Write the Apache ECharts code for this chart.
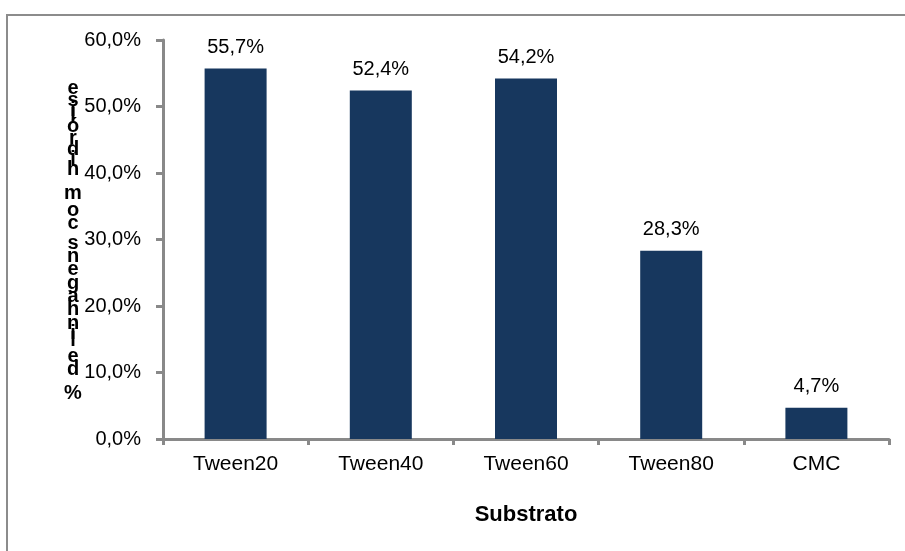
<!DOCTYPE html>
<html>
<head>
<meta charset="utf-8">
<script src="https://cdn.jsdelivr.net/npm/echarts@6/dist/echarts.min.js"></script>
<style>
  html, body { margin: 0; padding: 0; background: #fff; }
  #chart { width: 905px; height: 551px; }
</style>
</head>
<body>
<div id="chart"></div>
<script>
// Share of strains showing hydrolysis per substrate (%)
const categories = ['Tween20', 'Tween40', 'Tween60', 'Tween80', 'CMC'];
const hydrolysis = [55.7, 52.4, 54.2, 28.3, 4.7];
const yTicks = [0, 10, 20, 30, 40, 50, 60];
const yTitle = '% de linhagens com hidrólise';
const xTitle = 'Substrato';

const FONT = "'Liberation Sans', Arial, sans-serif";
const AXIS_GRAY = '#898989';
const BAR_BLUE = '#17375E';
const pct = v => Number(v).toFixed(1).replace('.', ',') + '%';

// Vertical title drawn as upright glyphs stacked bottom-to-top,
// each one advanced by its own horizontal width.
function stackedTitle(text, cx, yTop, yBottom, fontPx) {
  const ctx = document.createElement('canvas').getContext('2d');
  ctx.font = 'bold 100px ' + FONT;
  const chars = Array.from(text);
  const adv = chars.map(c => ctx.measureText(c).width);
  let acc = 0;
  const centers = adv.map(w => { const c = acc + w / 2; acc += w; return c; });
  const first = centers[0], last = centers[centers.length - 1];
  const k = (yBottom - yTop) / (last - first);
  const out = [];
  chars.forEach((c, i) => {
    if (c === ' ') return;
    out.push({
      type: 'text',
      x: cx,
      y: yBottom - (centers[i] - first) * k,
      z: 10,
      style: {
        text: c,
        font: 'bold ' + fontPx + 'px ' + FONT,
        fill: '#000',
        align: 'center', textAlign: 'center',
        verticalAlign: 'middle', textVerticalAlign: 'middle'
      }
    });
  });
  return out;
}

const chart = echarts.init(document.getElementById('chart'), null, { renderer: 'canvas' });

chart.setOption({
  animation: false,
  backgroundColor: '#fff',
  textStyle: { fontFamily: FONT },
  grid: { left: 163, right: 16, top: 40, bottom: 112, containLabel: false, outerBoundsMode: 'none' },
  xAxis: {
    type: 'category',
    data: categories,
    name: xTitle,
    nameLocation: 'middle',
    nameGap: 65,
    nameTextStyle: { fontFamily: FONT, fontSize: 22, fontWeight: 'bold', color: '#000' },
    axisLine: { show: true, lineStyle: { color: AXIS_GRAY, width: 3 } },
    axisTick: { show: true, alignWithLabel: false, length: 6, lineStyle: { color: AXIS_GRAY, width: 3 } },
    axisLabel: { fontFamily: FONT, fontSize: 21, color: '#000', margin: 15 },
    splitLine: { show: false }
  },
  yAxis: {
    type: 'value',
    min: yTicks[0],
    max: yTicks[yTicks.length - 1],
    interval: yTicks[1] - yTicks[0],
    axisLine: { show: true, lineStyle: { color: AXIS_GRAY, width: 3 } },
    axisTick: { show: true, length: 7, lineStyle: { color: AXIS_GRAY, width: 3 } },
    axisLabel: { fontFamily: FONT, fontSize: 20, color: '#000', margin: 22, formatter: pct },
    splitLine: { show: false }
  },
  series: [{
    type: 'bar',
    data: hydrolysis,
    barWidth: 62,
    itemStyle: { color: BAR_BLUE },
    label: {
      show: true,
      position: 'top',
      distance: 11,
      fontFamily: FONT,
      fontSize: 20,
      color: '#000',
      formatter: p => pct(p.value)
    }
  }],
  graphic: [
    {
      type: 'rect',
      z: 0,
      shape: { x: 7, y: 15, width: 1000, height: 1000 },
      style: { fill: 'none', stroke: '#8c8c8c', lineWidth: 2 }
    }
  ].concat(stackedTitle(yTitle, 73, 88, 393, 20))
});
</script>
</body>
</html>
